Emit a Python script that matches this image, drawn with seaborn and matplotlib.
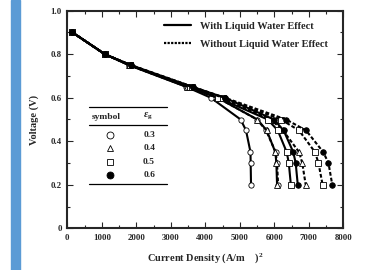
import numpy as np
import pandas as pd
import matplotlib
matplotlib.use("Agg")
import matplotlib.pyplot as plt
import seaborn as sns
from matplotlib.lines import Line2D

# ---- data ----
voltage = [0.9, 0.8, 0.75, 0.65, 0.6, 0.5, 0.45, 0.35, 0.3, 0.2]
eps_labels = ["0.3", "0.4", "0.5", "0.6"]

with_03 = [150, 1090, 1780, 3450, 4160, 5025, 5180, 5310, 5315, 5325]
with_04 = [150, 1090, 1800, 3480, 4350, 5510, 5780, 6030, 6060, 6080]
with_05 = [150, 1090, 1820, 3550, 4370, 5810, 6100, 6360, 6420, 6480]
with_06 = [150, 1090, 1840, 3630, 4560, 5990, 6270, 6550, 6620, 6680]

without_03 = [150, 1090, 1790, 3470, 4360, 5500, 5760, 6040, 6080, 6110]
without_04 = [150, 1090, 1810, 3520, 4450, 5900, 6250, 6720, 6810, 6910]
without_05 = [150, 1090, 1830, 3600, 4520, 6190, 6716, 7180, 7280, 7400]
without_06 = [150, 1090, 1850, 3640, 4570, 6340, 6920, 7420, 7570, 7680]

x_ticks = [0, 1000, 2000, 3000, 4000, 5000, 6000, 7000, 8000]
y_ticks = [0, 0.2, 0.4, 0.6, 0.8, 1.0]
y_ticklabels = ["0", "0.2", "0.4", "0.6", "0.8", "1.0"]

sns.set_style("ticks")
plt.rcParams['font.family'] = ['Liberation Serif', 'DejaVu Serif']
plt.rcParams['font.weight'] = 'bold'
plt.rcParams['mathtext.fontset'] = 'custom'
plt.rcParams['mathtext.it'] = 'Liberation Serif:italic:bold'
plt.rcParams['mathtext.rm'] = 'Liberation Serif:bold'

fig = plt.figure(figsize=(3.66, 2.70), dpi=100)
fig.patches.append(plt.Rectangle((11/366, 0), 9/366, 1, transform=fig.transFigure,
                                 color="#5b9bd5", zorder=0))
ax = fig.add_axes([67.3/366, 1-228.3/270, 276/366, 217.6/270])

markers = ["o", "^", "s", "o"]
faces = ["white", "white", "white", "black"]
msizes = [3.8, 4.0, 3.8, 4.0]
with_sets = [with_03, with_04, with_05, with_06]
without_sets = [without_03, without_04, without_05, without_06]

for i in range(4):
    for data, ls in ((with_sets[i], "-"), (without_sets[i], (0, (1.8, 1.0)))):
        df = pd.DataFrame({"cd": data, "v": voltage})
        sns.lineplot(data=df, x="cd", y="v", ax=ax, estimator=None, sort=False,
                     color="black", linestyle=ls, linewidth=1.5,
                     marker=markers[i], markersize=msizes[i],
                     markerfacecolor=faces[i], markeredgecolor="black",
                     markeredgewidth=0.6, zorder=3)

ax.set_xlim(0, 8000)
ax.set_ylim(0, 1.0)
ax.set_xticks(x_ticks)
ax.set_xticklabels([str(t) for t in x_ticks])
ax.set_yticks(y_ticks)
ax.set_yticklabels(y_ticklabels)
ax.set_xticks(np.arange(500, 8000, 1000), minor=True)
ax.set_yticks(np.arange(0.1, 1.0, 0.2), minor=True)
ax.tick_params(which="both", direction="in", top=True, right=True,
               labelsize=6.3, width=0.8, pad=4)
ax.tick_params(which="major", length=4)
ax.tick_params(which="minor", length=2)
for lab in ax.get_xticklabels() + ax.get_yticklabels():
    lab.set_fontweight("bold")
for sp in ax.spines.values():
    sp.set_linewidth(1.5)

ax.set_xlabel("Current Density (A/m    )$^2$", fontsize=7.5, fontweight="bold", labelpad=7)
ax.set_ylabel("Voltage (V)", fontsize=7.5, fontweight="bold", labelpad=8)

# Line-style legend
handles = [Line2D([], [], color="black", lw=1.6, ls="-"),
           Line2D([], [], color="black", lw=1.6, ls=(0, (1.0, 0.6)))]
ax.legend(handles, ["With Liquid Water Effect", "Without Liquid Water Effect"],
          loc="upper left", bbox_to_anchor=((157-67.3)/276, 0.985), frameon=False,
          prop={"family": "Liberation Serif", "weight": "bold", "size": 7.5},
          handlelength=2.6, handletextpad=0.8, labelspacing=0.85, borderaxespad=0.3)

# Symbol table
tr = ax.transData
for yv in (0.558, 0.4725, 0.2018):
    ax.plot([630, 2900], [yv, yv], color="black", lw=0.9, transform=tr, zorder=4)
ax.text(1140, 0.512, "symbol", ha="center", va="center", fontsize=6.8, fontweight="bold")
ax.text(2330, 0.512, r"$\varepsilon_{\rm g}$", ha="center", va="center", fontsize=7.5)
row_y = [0.427, 0.367, 0.3055, 0.2445]
for i in range(4):
    ax.plot([1240], [row_y[i]], marker=markers[i], markersize=5,
            markerfacecolor=faces[i], markeredgecolor="black", markeredgewidth=0.6,
            linestyle="none")
    ax.text(2370, row_y[i], eps_labels[i], ha="center", va="center",
            fontsize=6.8, fontweight="bold")

fig.savefig("out.png", dpi=100)
